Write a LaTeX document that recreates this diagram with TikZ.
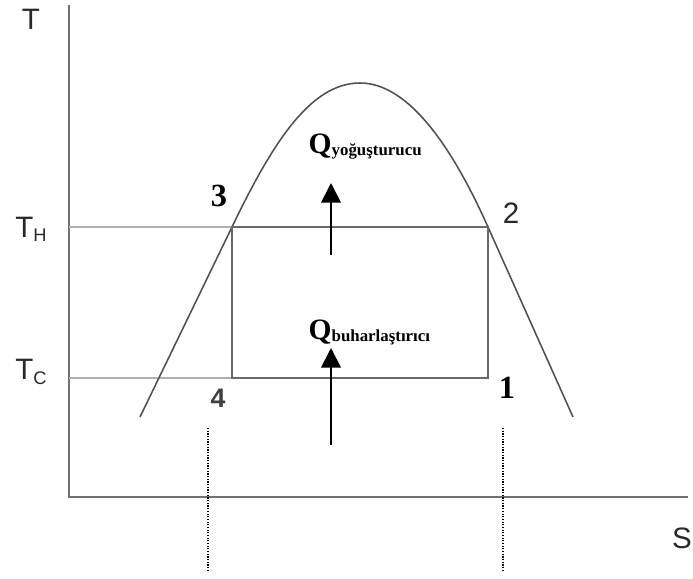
\documentclass[tikz,border=0pt]{standalone}
\usepackage{fontspec}
\setmainfont{Liberation Serif}
\setsansfont{Liberation Sans}
\usepackage{tikz}
\usetikzlibrary{arrows.meta}
\definecolor{axisgray}{RGB}{112, 112, 112}
\definecolor{cyclegray}{RGB}{105, 105, 105}
\definecolor{levelgray}{RGB}{175, 175, 175}
\definecolor{domegray}{RGB}{80, 80, 80}
\definecolor{textgray}{RGB}{40, 40, 40}

\tikzset{
  axislbl/.style={font=\sffamily\fontsize{21}{21}\selectfont, text=textgray, inner sep=0pt},
  ptsans/.style={font=\sffamily\fontsize{21}{21}\selectfont, text=textgray, inner sep=0pt},
  ptserif/.style={font=\bfseries\fontsize{23}{23}\selectfont, fill=white, inner sep=2pt},
  qlbl/.style={font=\bfseries, anchor=base west, fill=white, inner sep=1pt},
  heatarrow/.style={-{Triangle[length=14pt, width=14pt]}, line width=1.3pt, black},
  guide/.style={black, line width=0.8pt, dash pattern=on 0.9pt off 1pt}
}
\newcommand{\qsub}[1]{{\fontsize{21}{21}\selectfont Q}{\fontsize{12}{12}\selectfont\raisebox{-2pt}{#1}}}

\begin{document}
\begin{tikzpicture}[x=0.025cm, y=-0.025cm]
    \useasboundingbox (0,0) rectangle (693,579);

    %% axes
    \coordinate (origin) at (69,497);
    \coordinate (ytop) at (69,5);
    \coordinate (xend) at (688,497);
    \draw[axisgray, line width=1.8pt] (ytop) -- (origin) -- (xend);
    \node[axislbl] (tlbl) at (31,19) {T};
    \node[axislbl] (slbl) at (682,538) {S};

    %% cycle corners
    \coordinate (p1) at (488,378);
    \coordinate (p2) at (488,227);
    \coordinate (p3) at (232,227);
    \coordinate (p4) at (232,378);

    %% temperature levels
    \coordinate (th) at (69,227);
    \coordinate (tc) at (69,378);
    \draw[levelgray, line width=1.4pt] (th) -- (p3);
    \draw[levelgray, line width=1.4pt] (tc) -- (p4);
    \node[axislbl] (thlbl) at (31,229) {T{\fontsize{13}{13}\selectfont\raisebox{-3pt}{H}}};
    \node[axislbl] (tclbl) at (31,372) {T{\fontsize{13}{13}\selectfont\raisebox{-3pt}{C}}};

    %% saturation dome
    \coordinate (domeL) at (140,417);
    \coordinate (domeTop) at (360,83);
    \coordinate (domeR) at (573,417);
    \draw[domegray, line width=1.1pt] (domeL) -- (p3)
      .. controls (272,144) and (310,83) .. (domeTop)
      .. controls (410,83) and (454,151) .. (p2) -- (domeR);

    %% the cycle
    \draw[cyclegray, line width=1.8pt, line join=miter] (p1) -- (p2) -- (p3) -- (p4) -- cycle;

    %% heat labels and arrows
    \node[qlbl] (qcond) at (307,153) {\qsub{yoğuşturucu}};
    \node[qlbl] (qevap) at (307,339) {\qsub{buharlaştırıcı}};
    \coordinate (qcondA) at (331,255);
    \coordinate (qcondB) at (331,183);
    \coordinate (qevapA) at (331,445);
    \coordinate (qevapB) at (331,348);
    \draw[heatarrow] (qcondA) -- (qcondB);
    \draw[heatarrow] (qevapA) -- (qevapB);

    %% state points
    \node[ptserif] (n3) at (219,196) {3};
    \node[ptsans] (n2) at (511,213) {2};
    \node[ptsans, font=\sffamily\bfseries\fontsize{19}{19}\selectfont, text=black!75] (n4) at (218,398) {4};
    \node[ptserif] (n1) at (507,388) {1};

    %% dotted guides
    \coordinate (g4a) at (208,428);
    \coordinate (g4b) at (208,572);
    \coordinate (g1a) at (503,428);
    \coordinate (g1b) at (503,572);
    \draw[guide] (g4a) -- (g4b);
    \draw[guide] (g1a) -- (g1b);
\end{tikzpicture}
\end{document}
